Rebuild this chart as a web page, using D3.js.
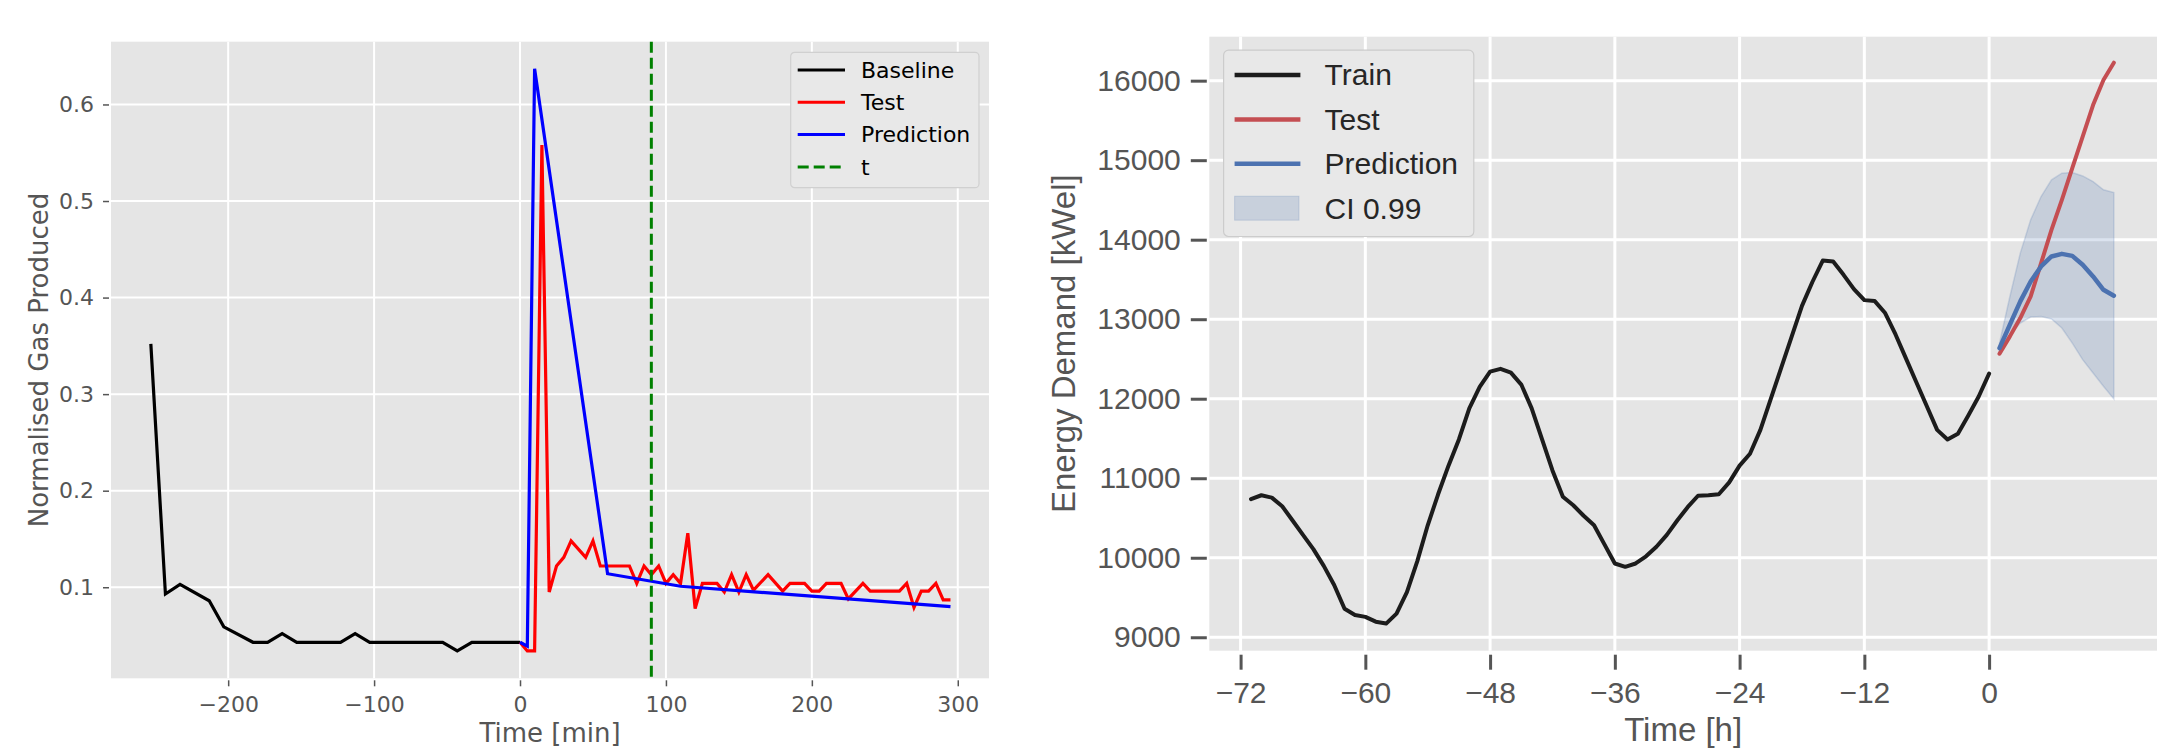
<!DOCTYPE html>
<html>
<head>
<meta charset="utf-8">
<script src="https://cdn.jsdelivr.net/npm/d3@7"></script>
<style>
  body { margin: 0; background: #fff; }
  svg { display: block; }
</style>
</head>
<body>
<svg id="chart"></svg>
<script>
const W = 2157, H = 749;

// ---- left panel: gas production ----
const gasBaselineTime = [-253, -243, -233, -213, -203, -183, -173, -163, -153, -123, -113, -103, -53, -43, -33, 0];
const gasBaselineValue = [0.352, 0.093, 0.103, 0.086, 0.059, 0.043, 0.043, 0.052, 0.043, 0.043, 0.052, 0.043, 0.043, 0.034, 0.043, 0.043];

const gasTestTime = [0, 5, 10, 15, 20, 25, 30, 35, 45, 50, 55, 75, 80, 85, 90, 95, 100, 105, 110, 115, 120, 125,
  135, 140, 145, 150, 155, 160, 170, 180, 185, 195, 200, 205, 210, 220, 225, 235, 240, 260, 265, 270, 275, 280, 285, 290, 295];
const gasTestValue = [0.043, 0.034, 0.034, 0.558, 0.095, 0.122, 0.131, 0.148, 0.131, 0.148, 0.122, 0.122, 0.104, 0.122, 0.113, 0.122, 0.104, 0.113, 0.104, 0.156, 0.078, 0.104,
  0.104, 0.095, 0.113, 0.095, 0.113, 0.097, 0.113, 0.096, 0.104, 0.104, 0.096, 0.096, 0.104, 0.104, 0.088, 0.104, 0.096, 0.096, 0.104, 0.079, 0.096, 0.096, 0.104, 0.087, 0.087];

const gasPredTime = [0, 5, 10, 60, 110, 295];
const gasPredValue = [0.043, 0.039, 0.637, 0.114, 0.101, 0.080];

const gasEventTime = 90;
const gasXTicks = [-200, -100, 0, 100, 200, 300];
const gasYTicks = [0.1, 0.2, 0.3, 0.4, 0.5, 0.6];
const gasLegend = ["Baseline", "Test", "Prediction", "t"];

// ---- right panel: energy demand ----
const trainHours = [-71, -70, -69, -68, -67, -66, -65, -64, -63, -62, -61, -60, -59, -58, -57, -56, -55, -54, -53, -52,
  -51, -50, -49, -48, -47, -46, -45, -44, -43, -42, -41, -40, -39, -38, -37, -36, -35, -34, -33, -32,
  -31, -30, -29, -28, -27, -26, -25, -24, -23, -22, -21, -20, -19, -18, -17, -16, -15, -14, -13, -12,
  -11, -10, -9, -8, -7, -6, -5, -4, -3, -2, -1, 0];
const trainDemand = [10738, 10786, 10756, 10648, 10468, 10288, 10108, 9898, 9658, 9358, 9280, 9256, 9196, 9172, 9298, 9568, 9958, 10408, 10798, 11158,
  11488, 11878, 12148, 12340, 12376, 12328, 12178, 11878, 11488, 11098, 10768, 10660, 10528, 10408, 10168, 9928, 9886, 9928, 10018, 10138,
  10288, 10468, 10636, 10780, 10786, 10798, 10948, 11158, 11308, 11608, 11998, 12388, 12778, 13168, 13468, 13738, 13726, 13558, 13378, 13240,
  13228, 13078, 12808, 12508, 12208, 11908, 11608, 11488, 11560, 11788, 12028, 12316];

const testHours = [1, 2, 3, 4, 5, 6, 7, 8, 9, 10, 11, 12];
const testDemand = [12566, 12784, 13014, 13286, 13705, 14124, 14501, 14899, 15296, 15694, 16008, 16226];
const predDemand = [12637, 12931, 13224, 13475, 13663, 13789, 13822, 13797, 13684, 13538, 13370, 13295];
const ciUpper = [12700, 13286, 13831, 14250, 14543, 14752, 14836, 14844, 14802, 14731, 14627, 14593];
const ciLower = [12575, 12805, 12952, 13027, 13035, 13002, 12889, 12700, 12491, 12323, 12156, 11997];

const energyXTicks = [-72, -60, -48, -36, -24, -12, 0];
const energyYTicks = [9000, 10000, 11000, 12000, 13000, 14000, 15000, 16000];
const energyLegend = ["Train", "Test", "Prediction", "CI 0.99"];

const svg = d3.select("#chart").attr("width", W).attr("height", H);

// ================= LEFT =================
const L = { left: 111, right: 989, top: 41.7, bottom: 678.3 };
const xL = d3.scaleLinear().domain([-280.3, 321.4]).range([L.left, L.right]);
const yL = d3.scaleLinear().domain([0.0057, 0.665]).range([L.bottom, L.top]);
const fontL = "'DejaVu Sans', sans-serif";

const gL = svg.append("g");
gL.append("rect")
  .attr("x", L.left).attr("y", L.top)
  .attr("width", L.right - L.left).attr("height", L.bottom - L.top)
  .attr("fill", "#e5e5e5");

// grid
gL.selectAll(".gx").data(gasXTicks).join("line")
  .attr("x1", d => xL(d)).attr("x2", d => xL(d))
  .attr("y1", L.top).attr("y2", L.bottom)
  .attr("stroke", "#fff").attr("stroke-width", 2);
gL.selectAll(".gy").data(gasYTicks).join("line")
  .attr("x1", L.left).attr("x2", L.right)
  .attr("y1", d => yL(d)).attr("y2", d => yL(d))
  .attr("stroke", "#fff").attr("stroke-width", 2);

// axes
const axL = gL.append("g")
  .attr("transform", `translate(${L.left - 2},0)`)
  .call(d3.axisLeft(yL).tickValues(gasYTicks).tickSize(6).tickPadding(9).tickFormat(d3.format(".1f")));
const axB = gL.append("g")
  .attr("transform", `translate(0,${L.bottom + 2})`)
  .call(d3.axisBottom(xL).tickValues(gasXTicks).tickSize(6).tickPadding(10).tickFormat(d3.format("d")));
[axL, axB].forEach(a => {
  a.select(".domain").remove();
  a.selectAll(".tick line").attr("stroke", "#555").attr("stroke-width", 1.5);
  a.selectAll(".tick text").attr("fill", "#555").style("font-family", fontL).style("font-size", "22px");
});

gL.append("text")
  .attr("x", (L.left + L.right) / 2).attr("y", 742)
  .attr("text-anchor", "middle")
  .style("font-family", fontL).style("font-size", "26px").attr("fill", "#555")
  .text("Time [min]");
gL.append("text")
  .attr("transform", `translate(47.5,${(L.top + L.bottom) / 2}) rotate(-90)`)
  .attr("text-anchor", "middle")
  .style("font-family", fontL).style("font-size", "26px").attr("fill", "#555")
  .text("Normalised Gas Produced");

const lineL = d3.line().x(d => xL(d[0])).y(d => yL(d[1]));
const gasSeries = [
  { t: gasBaselineTime, v: gasBaselineValue, color: "#000000" },
  { t: gasTestTime, v: gasTestValue, color: "#ff0000" },
  { t: gasPredTime, v: gasPredValue, color: "#0000ff" }
];
gasSeries.forEach(s => {
  gL.append("path")
    .datum(d3.zip(s.t, s.v))
    .attr("d", lineL)
    .attr("fill", "none")
    .attr("stroke", s.color)
    .attr("stroke-width", 3.2)
    .attr("stroke-linejoin", "miter");
});

gL.append("line")
  .attr("x1", xL(gasEventTime)).attr("x2", xL(gasEventTime))
  .attr("y1", L.top).attr("y2", L.bottom)
  .attr("stroke", "#008000").attr("stroke-width", 3)
  .attr("stroke-dasharray", "11,5");

// legend
const legL = gL.append("g").attr("transform", "translate(790.7,52.3)");
legL.append("rect")
  .attr("width", 188.3).attr("height", 135.4)
  .attr("rx", 4).attr("ry", 4)
  .attr("fill", "#e8e8e8").attr("stroke", "#d0d0d0").attr("stroke-width", 1.2);
const legColorsL = ["#000000", "#ff0000", "#0000ff", "#008000"];
gasLegend.forEach((name, i) => {
  const y = 17.7 + i * 32.3;
  legL.append("line")
    .attr("x1", 7).attr("x2", 54.3).attr("y1", y).attr("y2", y)
    .attr("stroke", legColorsL[i]).attr("stroke-width", 3)
    .attr("stroke-dasharray", i === 3 ? "11,5" : null);
  legL.append("text")
    .attr("x", 70.3).attr("y", y)
    .attr("dy", "0.35em")
    .style("font-family", fontL).style("font-size", "22px").attr("fill", "#000")
    .text(name);
});

// ================= RIGHT =================
const R = { left: 1209.3, right: 2157, top: 36.7, bottom: 650.7 };
const xR = d3.scaleLinear().domain([-75.01, 16.15]).range([R.left, R.right]);
const yR = d3.scaleLinear().domain([8831, 16553]).range([R.bottom, R.top]);
const fontR = "'Liberation Sans', Arial, sans-serif";

const gR = svg.append("g");
gR.append("rect")
  .attr("x", R.left).attr("y", R.top)
  .attr("width", R.right - R.left).attr("height", R.bottom - R.top)
  .attr("fill", "#e5e5e5");

gR.selectAll(".gx").data(energyXTicks).join("line")
  .attr("x1", d => xR(d)).attr("x2", d => xR(d))
  .attr("y1", R.top).attr("y2", R.bottom)
  .attr("stroke", "#fff").attr("stroke-width", 3);
gR.selectAll(".gy").data(energyYTicks).join("line")
  .attr("x1", R.left).attr("x2", R.right)
  .attr("y1", d => yR(d)).attr("y2", d => yR(d))
  .attr("stroke", "#fff").attr("stroke-width", 3);

const axRL = gR.append("g")
  .attr("transform", `translate(${R.left - 2.5},0)`)
  .call(d3.axisLeft(yR).tickValues(energyYTicks).tickSize(16).tickPadding(10).tickFormat(d3.format("d")));
const axRB = gR.append("g")
  .attr("transform", `translate(0,${R.bottom + 4})`)
  .call(d3.axisBottom(xR).tickValues(energyXTicks).tickSize(15).tickPadding(12).tickFormat(d3.format("d")));
[axRL, axRB].forEach(a => {
  a.select(".domain").remove();
  a.selectAll(".tick line").attr("stroke", "#555").attr("stroke-width", 3);
  a.selectAll(".tick text").attr("fill", "#555").style("font-family", fontR).style("font-size", "30px");
});

gR.append("text")
  .attr("x", (R.left + R.right) / 2).attr("y", 741)
  .attr("text-anchor", "middle")
  .style("font-family", fontR).style("font-size", "33px").attr("fill", "#555")
  .text("Time [h]");
gR.append("text")
  .attr("transform", `translate(1075,${(R.top + R.bottom) / 2}) rotate(-90)`)
  .attr("text-anchor", "middle")
  .style("font-family", fontR).style("font-size", "33px").attr("fill", "#555")
  .text("Energy Demand [kWel]");

// confidence band
const area = d3.area()
  .x(d => xR(d[0])).y0(d => yR(d[1])).y1(d => yR(d[2]));
gR.append("path")
  .datum(d3.zip(testHours, ciLower, ciUpper))
  .attr("d", area)
  .attr("fill", "#4c72b0").attr("fill-opacity", 0.2)
  .attr("stroke", "#4c72b0").attr("stroke-opacity", 0.2).attr("stroke-width", 1.5);

const lineR = d3.line().x(d => xR(d[0])).y(d => yR(d[1]));
const energySeries = [
  { t: trainHours, v: trainDemand, color: "#1c1c1c", w: 4 },
  { t: testHours, v: testDemand, color: "#c44e52", w: 4 },
  { t: testHours, v: predDemand, color: "#4c72b0", w: 4.5 }
];
energySeries.forEach(s => {
  gR.append("path")
    .datum(d3.zip(s.t, s.v))
    .attr("d", lineR)
    .attr("fill", "none")
    .attr("stroke", s.color)
    .attr("stroke-width", s.w)
    .attr("stroke-linejoin", "round")
    .attr("stroke-linecap", "round");
});

const legR = gR.append("g").attr("transform", "translate(1223.6,50.2)");
legR.append("rect")
  .attr("width", 250.2).attr("height", 186.3)
  .attr("rx", 5).attr("ry", 5)
  .attr("fill", "#e8e8e8").attr("stroke", "#cccccc").attr("stroke-width", 1.2);
const legColorsR = ["#1c1c1c", "#c44e52", "#4c72b0"];
energyLegend.forEach((name, i) => {
  const y = 24.8 + i * 44.4;
  if (i < 3) {
    legR.append("line")
      .attr("x1", 11).attr("x2", 76.8).attr("y1", y).attr("y2", y)
      .attr("stroke", legColorsR[i]).attr("stroke-width", 4.5);
  } else {
    legR.append("rect")
      .attr("x", 11).attr("y", y - 12).attr("width", 64.4).attr("height", 24)
      .attr("fill", "#4c72b0").attr("fill-opacity", 0.2)
      .attr("stroke", "#4c72b0").attr("stroke-opacity", 0.2);
  }
  legR.append("text")
    .attr("x", 101).attr("y", y)
    .attr("dy", "0.35em")
    .style("font-family", fontR).style("font-size", "30px").attr("fill", "#262626")
    .text(name);
});
</script>
</body>
</html>
